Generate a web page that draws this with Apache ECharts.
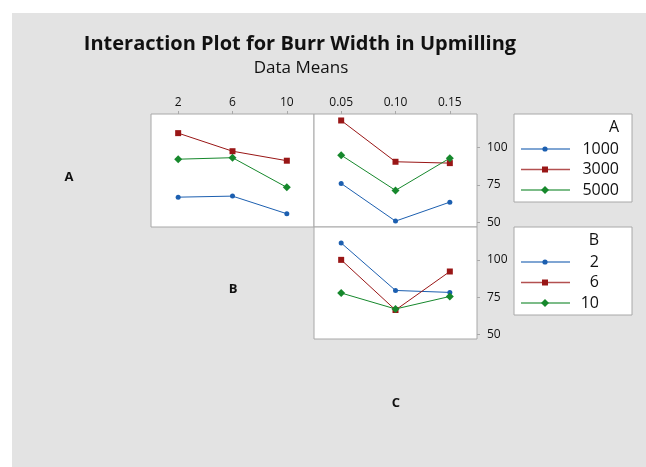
<!DOCTYPE html>
<html>
<head>
<meta charset="utf-8">
<script src="https://cdn.jsdelivr.net/npm/echarts@6/dist/echarts.min.js"></script>
<style>
  html, body { margin: 0; padding: 0; background: #ffffff; }
  #wrap { position: relative; width: 646px; height: 467px; overflow: hidden; }
  #bg { position: absolute; left: 12px; top: 13px; width: 634px; height: 454px; background: #e3e3e3; }
  #main { position: absolute; left: 0; top: 0; width: 646px; height: 467px; }
</style>
</head>
<body>
<div id="wrap"><div id="bg"></div><div id="main"></div></div>
<script>
// ---- data ----
const titleText = 'Interaction Plot for Burr Width in Upmilling';
const subtitleText = 'Data Means';
const factorNames = ['A', 'B', 'C'];
const aLevels = ['1000', '3000', '5000'];
const bLevels = ['2', '6', '10'];
const cLevels = ['0.05', '0.10', '0.15'];
const yTicks = [50, 75, 100];

// A lines across B (top-left panel)
const a1000ByB = [66.8, 67.5, 55.8];
const a3000ByB = [109.3, 97.3, 91.0];
const a5000ByB = [92.0, 93.0, 73.3];
// A lines across C (top-right panel)
const a1000ByC = [75.9, 50.9, 63.5];
const a3000ByC = [117.7, 90.3, 89.4];
const a5000ByC = [94.7, 71.3, 92.7];
// B lines across C (bottom panel)
const b2ByC = [111.3, 79.5, 78.2];
const b6ByC = [100.0, 66.4, 92.2];
const b10ByC = [77.8, 67.1, 75.5];

// ---- styling ----
const FONT = '"Open Sans", "Noto Sans", sans-serif';
const colors = ['#1c5fb0', '#991616', '#16882c'];
const symbols = ['circle', 'rect', 'diamond'];
const symbolSizes = [5, 6, 8];
const borderCol = '#a8a8a8';
const Y_MIN = 47, Y_MAX = 122;

const grids = [
  { left: 151, top: 114, width: 163, height: 113 },
  { left: 314, top: 114, width: 163, height: 113 },
  { left: 314, top: 227, width: 163, height: 112 }
].map(g => Object.assign({ show: true, backgroundColor: '#ffffff', borderColor: borderCol, borderWidth: 1 }, g));

function xAxisFor(gi, cats, showLabels) {
  return {
    type: 'category', gridIndex: gi, data: cats, position: 'top', boundaryGap: true,
    axisLine: { show: false },
    axisTick: { show: showLabels, alignWithLabel: true, length: 3, inside: false, lineStyle: { color: borderCol } },
    axisLabel: { show: showLabels, margin: 5, color: '#111', fontSize: 12, fontFamily: FONT },
    splitLine: { show: false }
  };
}
function yAxisFor(gi, showLabels) {
  return {
    type: 'value', gridIndex: gi, min: Y_MIN, max: Y_MAX, position: 'right',
    axisLine: { show: false },
    axisTick: { show: showLabels, length: 3, customValues: yTicks, lineStyle: { color: borderCol } },
    axisLabel: { show: showLabels, margin: 10, color: '#111', fontSize: 12, fontFamily: FONT, customValues: yTicks },
    splitLine: { show: false }
  };
}

function mkSeries(name, data, idx, gi) {
  return {
    type: 'line', name: name, data: data, xAxisIndex: gi, yAxisIndex: gi,
    color: colors[idx], symbol: symbols[idx], symbolSize: symbolSizes[idx], showSymbol: true,
    lineStyle: { width: 1, color: colors[idx] },
    itemStyle: { color: colors[idx] },
    emphasis: { disabled: true }, animation: false
  };
}

const series = [
  mkSeries(aLevels[0], a1000ByB, 0, 0), mkSeries(aLevels[1], a3000ByB, 1, 0), mkSeries(aLevels[2], a5000ByB, 2, 0),
  mkSeries(aLevels[0], a1000ByC, 0, 1), mkSeries(aLevels[1], a3000ByC, 1, 1), mkSeries(aLevels[2], a5000ByC, 2, 1),
  mkSeries(bLevels[0], b2ByC, 0, 2), mkSeries(bLevels[1], b6ByC, 1, 2), mkSeries(bLevels[2], b10ByC, 2, 2)
];

// legend boxes drawn as graphics (built from level arrays)
function legendGraphics(x, y, w, h, title, levels, textRight) {
  const els = [];
  els.push({ type: 'rect', shape: { x: x, y: y, width: w, height: h }, style: { fill: '#ffffff', stroke: borderCol, lineWidth: 1 } });
  els.push({ type: 'text', x: textRight, y: y + 13, style: { text: title, font: '16px ' + FONT, fill: '#111', align: 'right', verticalAlign: 'middle' } });
  levels.forEach((lv, i) => {
    const cy = y + 35 + i * 20.5;
    const c = colors[i];
    els.push({ type: 'line', shape: { x1: x + 7, y1: cy, x2: x + 56, y2: cy }, style: { stroke: c, lineWidth: 1.6, opacity: 0.75 } });
    const mx = x + 31;
    if (i === 0) els.push({ type: 'circle', shape: { cx: mx, cy: cy, r: 2.6 }, style: { fill: c } });
    else if (i === 1) els.push({ type: 'rect', shape: { x: mx - 3, y: cy - 3, width: 6, height: 6 }, style: { fill: c } });
    else els.push({ type: 'polygon', shape: { points: [[mx, cy - 4], [mx + 4, cy], [mx, cy + 4], [mx - 4, cy]] }, style: { fill: c } });
    els.push({ type: 'text', x: textRight, y: cy, style: { text: lv, font: '16px ' + FONT, fill: '#111', align: 'right', verticalAlign: 'middle' } });
  });
  return els;
}

const graphics = [
  { type: 'text', x: 300, y: 44, style: { text: titleText, font: 'bold 20px ' + FONT, fill: '#111', align: 'center', verticalAlign: 'middle' } },
  { type: 'text', x: 301, y: 68, style: { text: subtitleText, font: '17px ' + FONT, fill: '#111', align: 'center', verticalAlign: 'middle' } },
  { type: 'text', x: 69, y: 177, style: { text: factorNames[0], font: 'bold 13px ' + FONT, fill: '#111', align: 'center', verticalAlign: 'middle' } },
  { type: 'text', x: 233, y: 289, style: { text: factorNames[1], font: 'bold 13px ' + FONT, fill: '#111', align: 'center', verticalAlign: 'middle' } },
  { type: 'text', x: 396, y: 403, style: { text: factorNames[2], font: 'bold 13px ' + FONT, fill: '#111', align: 'center', verticalAlign: 'middle' } }
].concat(legendGraphics(514, 114, 118, 88, factorNames[0], aLevels, 619))
 .concat(legendGraphics(514, 227, 118, 88, factorNames[1], bLevels, 599));

const chart = echarts.init(document.getElementById('main'), null, { renderer: 'canvas' });
chart.setOption({
  animation: false,
  backgroundColor: 'transparent',
  grid: grids,
  xAxis: [xAxisFor(0, bLevels, true), xAxisFor(1, cLevels, true), xAxisFor(2, cLevels, false)],
  yAxis: [yAxisFor(0, false), yAxisFor(1, true), yAxisFor(2, true)],
  series: series,
  graphic: graphics
});
</script>
</body>
</html>
